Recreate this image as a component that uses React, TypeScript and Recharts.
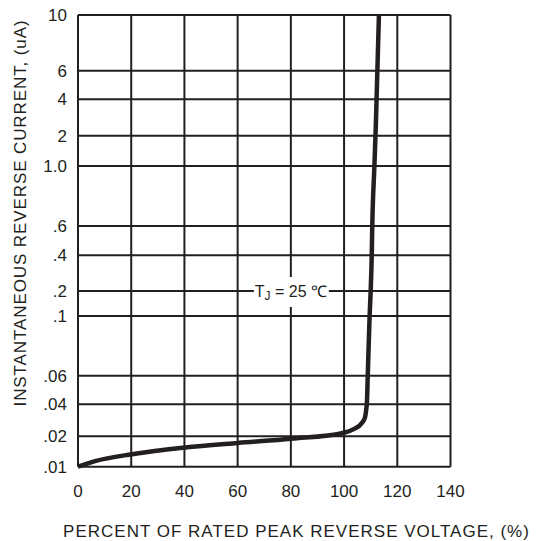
import React from 'react';
import { LineChart, Line, XAxis, YAxis, CartesianGrid, ReferenceDot, Label } from 'recharts';

// Percent of rated peak reverse voltage (%)
const PERCENT = [0, 6.4, 20.3, 40.2, 60.1, 80.1, 100.0, 104.0, 106.0, 107.0, 107.9, 108.3, 108.6, 108.9, 109.6, 110.0, 110.4, 110.6, 111.4, 112.0, 113.1];
// Instantaneous reverse current (uA)
const CURRENT = [0.01, 0.01134, 0.0133, 0.0155, 0.0172, 0.0189, 0.0216, 0.0236, 0.0255, 0.0273, 0.0304, 0.0354, 0.0415, 0.06, 0.1, 0.2, 0.4, 0.6, 1.0, 2.7, 10];

// X axis ticks
const X_TICKS = [0, 20, 40, 60, 80, 100, 120, 140];

// The printed log grid is irregular: each labelled value sits at its own grid position (0..100 from bottom)
const Y_TICK_VALUES = [0.01, 0.02, 0.04, 0.06, 0.1, 0.2, 0.4, 0.6, 1, 2, 4, 6, 10];
const Y_TICK_POS = [0, 6.73, 13.81, 20.15, 33.36, 38.9, 46.8, 53.29, 66.57, 73.28, 81.34, 87.67, 100];
const Y_TICK_LABELS = ['.01', '.02', '.04', '.06', '.1', '.2', '.4', '.6', '1.0', '2', '4', '6', '10'];

const INK = '#231f20';
const FONT = '"Liberation Sans", Arial, Helvetica, sans-serif';

// map a current value onto the chart's printed (piecewise log) grid
function toGrid(v: number): number {
  const lv = Math.log10(v);
  for (let i = 0; i < Y_TICK_VALUES.length - 1; i++) {
    const a = Math.log10(Y_TICK_VALUES[i]);
    const b = Math.log10(Y_TICK_VALUES[i + 1]);
    if (lv <= b || i === Y_TICK_VALUES.length - 2) {
      const t = (lv - a) / (b - a);
      return Y_TICK_POS[i] + t * (Y_TICK_POS[i + 1] - Y_TICK_POS[i]);
    }
  }
  return 0;
}

const data = PERCENT.map((p, i) => ({ pct: p, current: CURRENT[i], grid: toGrid(CURRENT[i]) }));

const yLabel = (pos: number) => {
  const idx = Y_TICK_POS.indexOf(pos);
  return idx >= 0 ? Y_TICK_LABELS[idx] : '';
};

const TjLabel = (props: any) => {
  const { cx, cy } = props;
  if (cx == null || cy == null) return null;
  return (
    <g>
      <rect x={cx - 37} y={cy - 14} width={75} height={30} fill="#ffffff" />
      <text x={cx} y={cy + 6} textAnchor="middle" fill={INK} fontFamily={FONT} fontSize={16}>
        T<tspan fontSize={12} dy={3}>J</tspan>
        <tspan dy={-3}>{' = 25 \u2103'}</tspan>
      </text>
    </g>
  );
};

export default function App() {
  return (
    <div style={{ position: 'absolute', left: 0, top: 0, width: 537, height: 541, background: '#fff' }}>
      <LineChart
        width={537}
        height={541}
        data={data}
        margin={{ top: 15, right: 86.5, bottom: 0, left: 0 }}
      >
        <CartesianGrid stroke={INK} strokeWidth={2} />
        <XAxis
          dataKey="pct"
          type="number"
          domain={[0, 140]}
          ticks={X_TICKS}
          interval={0}
          height={74.3}
          axisLine={false}
          tickLine={false}
          tickSize={0}
          tickMargin={18}
          tick={{ fill: INK, fontSize: 17, fontFamily: FONT }}
        >
          <Label
            content={() => (
              <text x={296.5} y={537} textAnchor="middle" fill={INK} fontFamily={FONT} fontSize={17} letterSpacing={1}>
                PERCENT OF RATED PEAK REVERSE VOLTAGE, (%)
              </text>
            )}
          />
        </XAxis>
        <YAxis
          dataKey="grid"
          type="number"
          domain={[0, 100]}
          ticks={Y_TICK_POS}
          interval={0}
          width={78}
          axisLine={false}
          tickLine={false}
          tickSize={0}
          tickMargin={11}
          tickFormatter={yLabel}
          tick={{ fill: INK, fontSize: 17, fontFamily: FONT }}
        >
          <Label
            content={() => (
              <text
                x={0}
                y={0}
                transform="translate(26,213) rotate(-90)"
                textAnchor="middle"
                fill={INK}
                fontFamily={FONT}
                fontSize={17}
                letterSpacing={0.9}
              >
                INSTANTANEOUS REVERSE CURRENT, (uA)
              </text>
            )}
          />
        </YAxis>
        <Line
          type="monotone"
          dataKey="grid"
          stroke={INK}
          strokeWidth={4.5}
          dot={false}
          isAnimationActive={false}
        />
        <ReferenceDot x={80} y={toGrid(0.2)} shape={TjLabel} ifOverflow="visible" />
      </LineChart>
    </div>
  );
}
